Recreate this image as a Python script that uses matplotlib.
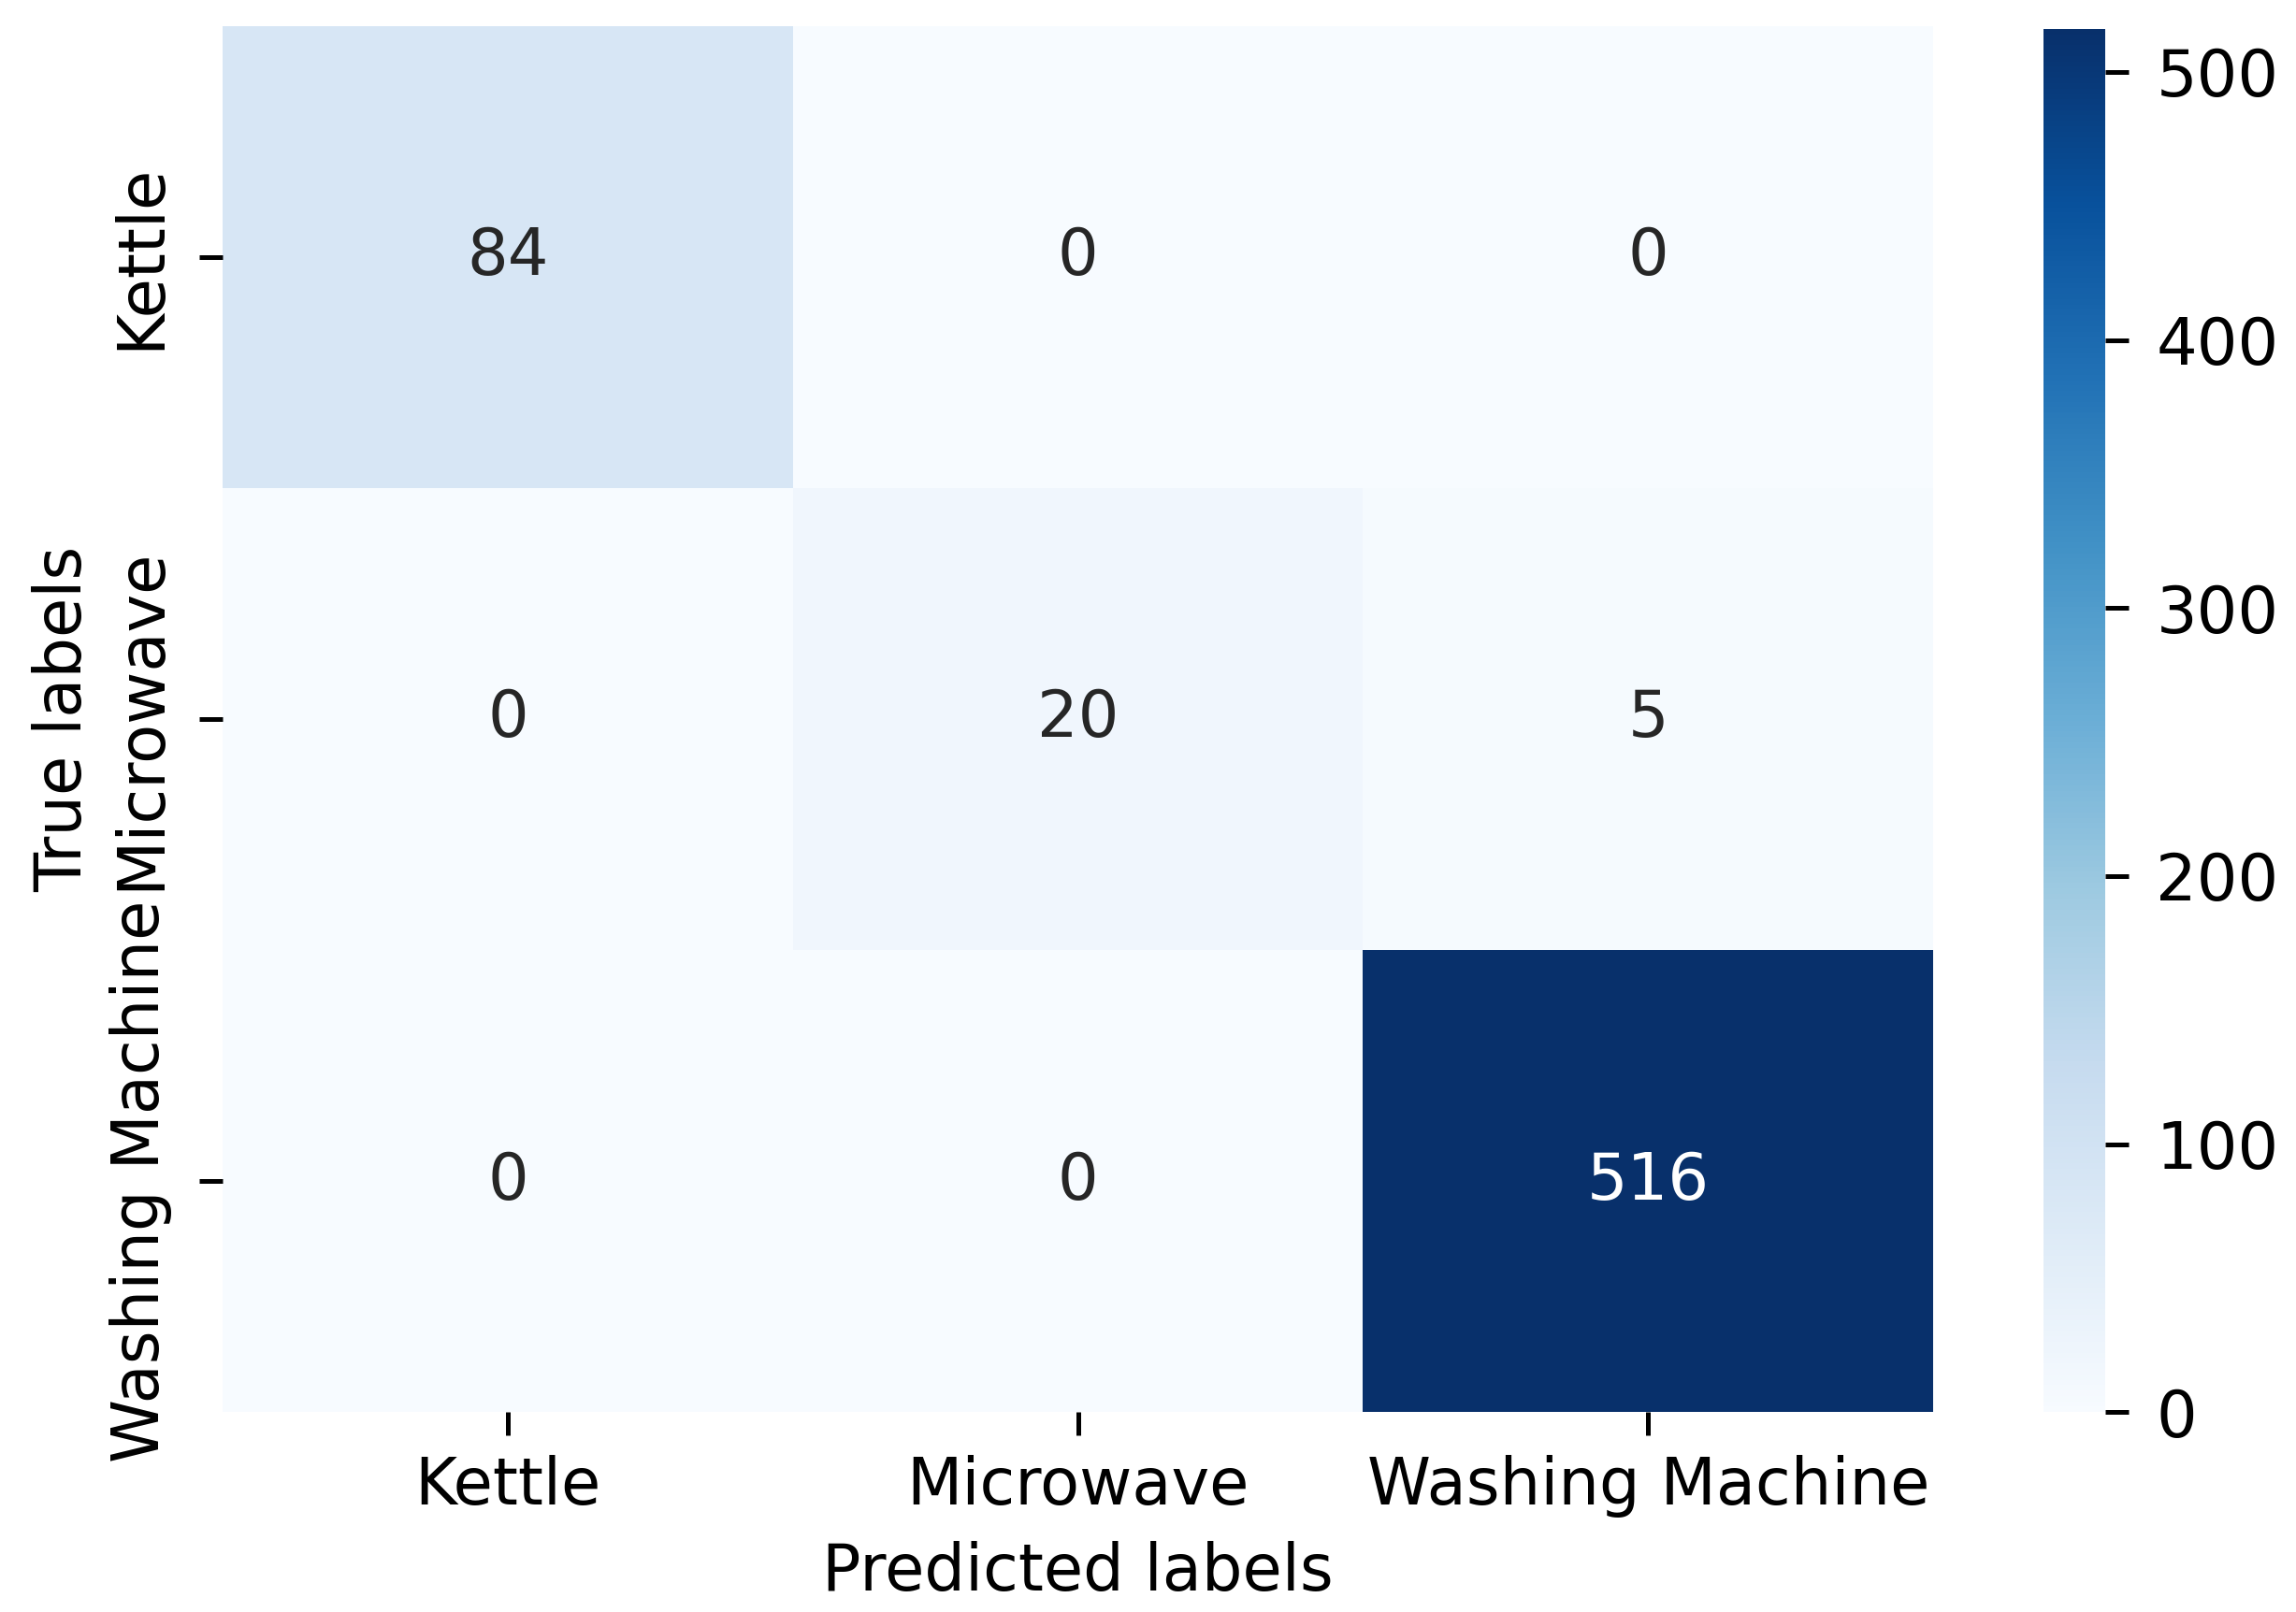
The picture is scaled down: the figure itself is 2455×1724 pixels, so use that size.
import numpy as np
import matplotlib
matplotlib.use('Agg')
import matplotlib.pyplot as plt
import seaborn as sns

# confusion matrix values
labels = ['Kettle', 'Microwave', 'Washing Machine']
cm = np.array([[84, 0, 0],
               [0, 20, 5],
               [0, 0, 516]])
cbar_ticks = [0, 100, 200, 300, 400, 500]

fs = 16.5
plt.rcParams['font.family'] = 'DejaVu Sans'
plt.rcParams['font.size'] = fs
plt.rcParams['xtick.major.size'] = 6
plt.rcParams['ytick.major.size'] = 6
plt.rcParams['xtick.major.width'] = 1.2
plt.rcParams['ytick.major.width'] = 1.2
plt.rcParams['xtick.major.pad'] = 5
plt.rcParams['ytick.major.pad'] = 7

fig = plt.figure(figsize=(2455 / 300, 1724 / 300), dpi=300)
ax = fig.add_axes([0.097, 0.124, 0.745, 0.860])
cax = fig.add_axes([0.890, 0.124, 0.027, 0.858])

sns.heatmap(cm, annot=True, fmt='d', cmap='Blues', ax=ax, cbar_ax=cax,
            annot_kws={'size': fs})

ax.set_xticklabels(labels, fontsize=fs)
ax.set_yticklabels(labels, fontsize=fs, rotation=90, va='center')
ax.set_xlabel('Predicted labels', fontsize=fs)
ax.set_ylabel('True labels', fontsize=fs)
ax.yaxis.set_label_coords(-0.075, 0.5)
ax.xaxis.labelpad = 6
cax.tick_params(labelsize=fs, pad=7)
cax.set_yticks(cbar_ticks)

fig.savefig('out.png', dpi=300)
